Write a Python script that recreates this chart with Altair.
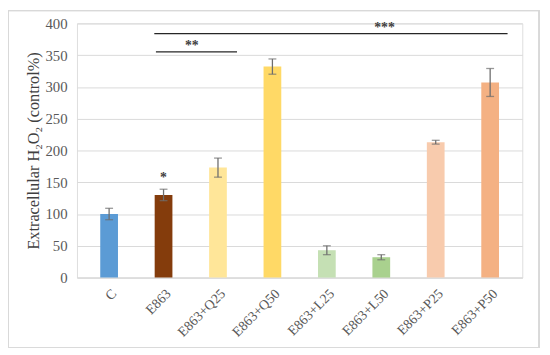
import altair as alt
import pandas as pd
import json

categories = ["C", "E863", "E863+Q25", "E863+Q50", "E863+L25", "E863+L50", "E863+P25", "E863+P50"]
values = [100, 130, 173, 332, 43, 32, 213, 307]
errors = [9, 9, 15, 12, 7, 4, 3, 22]
colors = ["#5B9BD5", "#843C0C", "#FFE699", "#FFD966", "#C5E0B4", "#A9D18E", "#F8CBAD", "#F4B183"]

# significance annotations (x in category-index units, 0..8 across the plot)
sig_lines_x = [1.36, 1.33]
sig_lines_x2 = [2.85, 7.82]
sig_lines_y = [355, 384]
sig_text = ["**", "***", "*"]
sig_text_x = [2.02, 5.56, 1.5]
sig_text_y = [365, 392, 156]

W, H = 452, 258
FONT = "Liberation Serif"
YT = "Extracellular H₂O₂ (control%)"

df = pd.DataFrame({"cat": categories, "val": values, "err": errors, "color": colors})
df["pos"] = [i + 0.5 for i in range(len(categories))]
df["lo"] = df["val"] - df["err"]
df["hi"] = df["val"] + df["err"]

label_expr = json.dumps(categories) + "[floor(datum.value)]"
xs = alt.Scale(domain=[0, 8], nice=False, zero=False)
ys = alt.Scale(domain=[0, 400], nice=False)
xax = alt.Axis(values=[i + 0.5 for i in range(len(categories))], labelExpr=label_expr,
               labelAngle=-45, labelAlign="right", labelBaseline="top",
               labelFont=FONT, labelFontSize=14, labelColor="#595959",
               ticks=False, grid=False, domainColor="#D9D9D9", labelPadding=9,
               labelOverlap=False, labelBound=False, labelFlush=False)
yax = alt.Axis(values=list(range(0, 401, 50)), labelFont=FONT, labelFontSize=15,
               labelColor="#595959", ticks=False, domain=False, labelOverlap=False,
               gridColor="#D9D9D9", titleFont=FONT, titleFontSize=16.5,
               titleFontWeight="normal", titleColor="#404040", titlePadding=4,
               labelPadding=10)

X = lambda f: alt.X(f, scale=xs, title=None, axis=xax)
Y = lambda f: alt.Y(f, scale=ys, title=YT, axis=yax)

base = alt.Chart(df)
bars = base.mark_bar(size=18).encode(
    x=X("pos:Q"), y=Y("val:Q"), color=alt.Color("color:N", scale=None))
rules = base.mark_rule(color="#6E6E6E", strokeWidth=1.3).encode(
    x=X("pos:Q"), y=Y("lo:Q"), y2="hi:Q")
cap_lo = base.mark_tick(color="#6E6E6E", size=8, thickness=1.3, orient="horizontal").encode(
    x=X("pos:Q"), y=Y("lo:Q"))
cap_hi = base.mark_tick(color="#6E6E6E", size=8, thickness=1.3, orient="horizontal").encode(
    x=X("pos:Q"), y=Y("hi:Q"))

ldf = pd.DataFrame({"x": sig_lines_x, "x2": sig_lines_x2, "y": sig_lines_y})
lines = alt.Chart(ldf).mark_rule(color="#262626", strokeWidth=1.3).encode(
    x=X("x:Q"), x2="x2:Q", y=Y("y:Q"))
tdf = pd.DataFrame({"t": sig_text, "x": sig_text_x, "y": sig_text_y})
texts = alt.Chart(tdf).mark_text(font=FONT, fontSize=14, fontWeight="bold", color="#404040").encode(
    x=X("x:Q"), y=Y("y:Q"), text="t:N")

frame = alt.Chart(df).mark_rect(filled=False, stroke="#D9D9D9", strokeWidth=1, clip=False).encode(
    x=alt.value(-70), x2=alt.value(W + 17), y=alt.value(-13), y2=alt.value(H + 71))

chart = alt.layer(bars, rules, cap_lo, cap_hi, lines, texts, frame).properties(
    width=W, height=H,
    autosize=alt.AutoSizeParams(type="none"),
    padding={"left": 70, "top": 13, "right": 20, "bottom": 76},
).configure_view(stroke=None).configure(background="white")

chart.save("out.html", embed_options={"renderer": "svg", "actions": False})
